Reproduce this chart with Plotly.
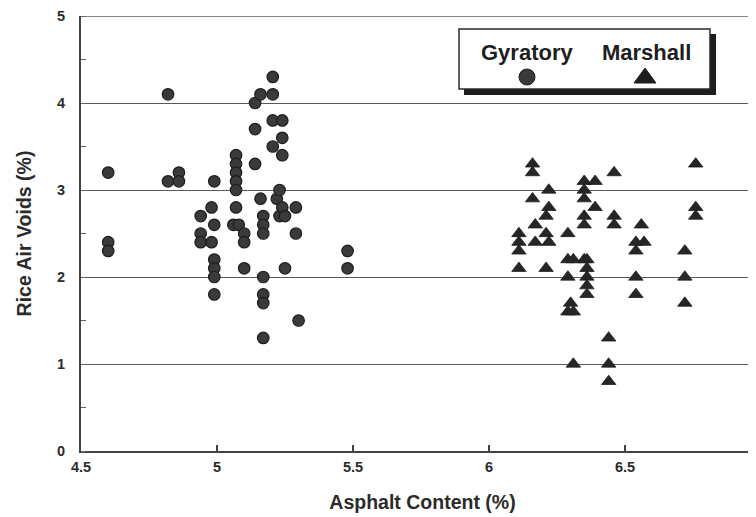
import plotly.graph_objects as go

# ---- data ----
gyr_x = [4.60, 4.60, 4.60,
         4.82, 4.82, 4.86, 4.86,
         4.94, 4.94, 4.94, 4.98, 4.98,
         4.99, 4.99, 4.99, 4.99, 4.99, 4.99,
         5.07, 5.07, 5.07, 5.07, 5.07, 5.07, 5.06, 5.08,
         5.10, 5.10, 5.10,
         5.14, 5.14, 5.14, 5.16, 5.16,
         5.17, 5.17, 5.17, 5.17, 5.17, 5.17, 5.17,
         5.205, 5.205, 5.205, 5.205,
         5.22, 5.23, 5.23,
         5.24, 5.24, 5.24, 5.24,
         5.25, 5.25, 5.29, 5.29, 5.30,
         5.48, 5.48]
gyr_y = [3.2, 2.4, 2.3,
         4.1, 3.1, 3.2, 3.1,
         2.7, 2.5, 2.4, 2.8, 2.4,
         3.1, 2.6, 2.2, 2.1, 2.0, 1.8,
         3.4, 3.3, 3.2, 3.1, 3.0, 2.8, 2.6, 2.6,
         2.5, 2.4, 2.1,
         4.0, 3.7, 3.3, 4.1, 2.9,
         2.7, 2.6, 2.5, 2.0, 1.8, 1.7, 1.3,
         4.3, 4.1, 3.8, 3.5,
         2.9, 3.0, 2.7,
         3.8, 3.6, 3.4, 2.8,
         2.7, 2.1, 2.8, 2.5, 1.5,
         2.3, 2.1]

mar_x = [6.11, 6.11, 6.11, 6.11,
         6.16, 6.16, 6.16, 6.17, 6.17,
         6.21, 6.21, 6.21, 6.22, 6.22, 6.22,
         6.29, 6.29, 6.29, 6.29, 6.30, 6.31, 6.31, 6.31,
         6.35, 6.35, 6.35, 6.35, 6.35, 6.35,
         6.36, 6.36, 6.36, 6.36, 6.36,
         6.39, 6.39,
         6.44, 6.44, 6.44,
         6.46, 6.46, 6.46,
         6.54, 6.54, 6.54, 6.54, 6.56, 6.57,
         6.72, 6.72, 6.72,
         6.76, 6.76, 6.76]
mar_y = [2.5, 2.4, 2.3, 2.1,
         3.3, 3.2, 2.9, 2.6, 2.4,
         2.7, 2.5, 2.1, 3.0, 2.8, 2.4,
         2.5, 2.2, 2.0, 1.6, 1.7, 2.2, 1.6, 1.0,
         3.1, 3.0, 2.9, 2.7, 2.6, 2.2,
         2.2, 2.1, 2.0, 1.9, 1.8,
         3.1, 2.8,
         1.3, 1.0, 0.8,
         3.2, 2.7, 2.6,
         2.4, 2.3, 2.0, 1.8, 2.6, 2.4,
         2.3, 2.0, 1.7,
         3.3, 2.8, 2.7]

x_ticks = [4.5, 5, 5.5, 6, 6.5]
x_tick_text = ["4.5", "5", "5.5", "6", "6.5"]
y_ticks = [0, 1, 2, 3, 4, 5]
y_tick_text = ["0", "1", "2", "3", "4", "5"]
y_max = 5
series_names = ["Gyratory", "Marshall"]

FONT = "Liberation Sans, Arial, Helvetica, sans-serif"
INK = "#2b2b2b"
GRID = "#5a5a5a"

fig = go.Figure()
fig.add_trace(go.Scatter(
    x=gyr_x, y=gyr_y, mode="markers", name=series_names[0],
    marker=dict(symbol="circle", size=11.5, color="#3a3a3a",
                line=dict(color="#1e1e1e", width=1.2)),
    showlegend=False))
fig.add_trace(go.Scatter(
    x=mar_x, y=mar_y, mode="markers", name=series_names[1],
    marker=dict(symbol="triangle-up", size=12.5, color="#262626",
                line=dict(color="#1e1e1e", width=0.8)),
    showlegend=False))

# page body has an 8px margin; compensate so the plot lands where the reference has it
OFF = 8
W, H = 756, 517
L, R, T, B = 81 - OFF, 0, 16 - OFF, 66 + OFF
pw, ph = W - L - R, H - T - B


def px(xs):
    return (xs - OFF - L) / pw


def py(ys):
    return (H - B - (ys - OFF)) / ph


shapes = []
# top gridline at the upper range edge (plotly hides the edge gridline)
shapes.append(dict(type="line", xref="paper", yref="y", x0=0, x1=1,
                   y0=y_max, y1=y_max, line=dict(color=GRID, width=1.6),
                   layer="below"))
# legend shadow
shapes.append(dict(type="rect", xref="paper", yref="paper",
                   x0=px(464), x1=px(716), y0=py(95), y1=py(34),
                   fillcolor="#1e1e1e", line=dict(width=0), layer="above"))
# legend box
shapes.append(dict(type="rect", xref="paper", yref="paper",
                   x0=px(459), x1=px(710), y0=py(89), y1=py(29),
                   fillcolor="white", line=dict(color="#2b2b2b", width=1.5),
                   layer="above"))
# legend circle glyph
shapes.append(dict(type="circle", xref="paper", yref="paper",
                   x0=px(519), x1=px(535), y0=py(85), y1=py(69),
                   fillcolor="#3a3a3a", line=dict(color="#1e1e1e", width=1),
                   layer="above"))
# legend triangle glyph
tx0, tx1, tcx, tyb, tyt = px(634), px(656), px(645), py(83), py(68)
shapes.append(dict(type="path", xref="paper", yref="paper",
                   path=f"M {tx0},{tyb} L {tx1},{tyb} L {tcx},{tyt} Z",
                   fillcolor="#1e1e1e", line=dict(color="#1e1e1e", width=1),
                   layer="above"))

annotations = [
    dict(text=series_names[0], xref="paper", yref="paper", x=px(527), y=py(52),
         showarrow=False, xanchor="center", yanchor="middle",
         font=dict(family=FONT, size=22, color="#1e1e1e", weight="bold")),
    dict(text=series_names[1], xref="paper", yref="paper", x=px(646), y=py(52),
         showarrow=False, xanchor="center", yanchor="middle",
         font=dict(family=FONT, size=22, color="#1e1e1e", weight="bold")),
]

fig.update_layout(
    width=W, height=H,
    margin=dict(l=L, r=R, t=T, b=B, pad=0, autoexpand=False),
    paper_bgcolor="white", plot_bgcolor="white",
    font=dict(family=FONT, color=INK),
    shapes=shapes, annotations=annotations,
    showlegend=False,
)

fig.update_xaxes(
    range=[4.5, 4.5 + pw / 272.0],
    automargin=False,
    tickvals=x_ticks, ticktext=x_tick_text,
    ticks="inside", ticklen=6, tickwidth=1.5, tickcolor="#444",
    showline=True, linecolor="#444", linewidth=2,
    showgrid=False, zeroline=False,
    ticklabelstandoff=2,
    tickfont=dict(family=FONT, size=14.5, color=INK, weight="bold"),
    title=dict(text="Asphalt Content (%)", standoff=21,
               font=dict(family=FONT, size=19.5, color=INK, weight="bold")),
)
fig.update_yaxes(
    range=[0, y_max],
    automargin=False,
    tickvals=y_ticks, ticktext=y_tick_text,
    ticks="", showline=True, linecolor="#444", linewidth=2,
    showgrid=True, gridcolor=GRID, gridwidth=1.4,
    zeroline=False,
    minor=dict(ticks="inside", ticklen=5, tickwidth=1.2, tickcolor="#666",
               dtick=0.5, tick0=0, showgrid=False),
    ticklabelstandoff=11,
    tickfont=dict(family=FONT, size=14.5, color=INK, weight="bold"),
    title=dict(text="Rice Air Voids (%)", standoff=20,
               font=dict(family=FONT, size=19.5, color=INK, weight="bold")),
)

fig.write_html("out.html")
